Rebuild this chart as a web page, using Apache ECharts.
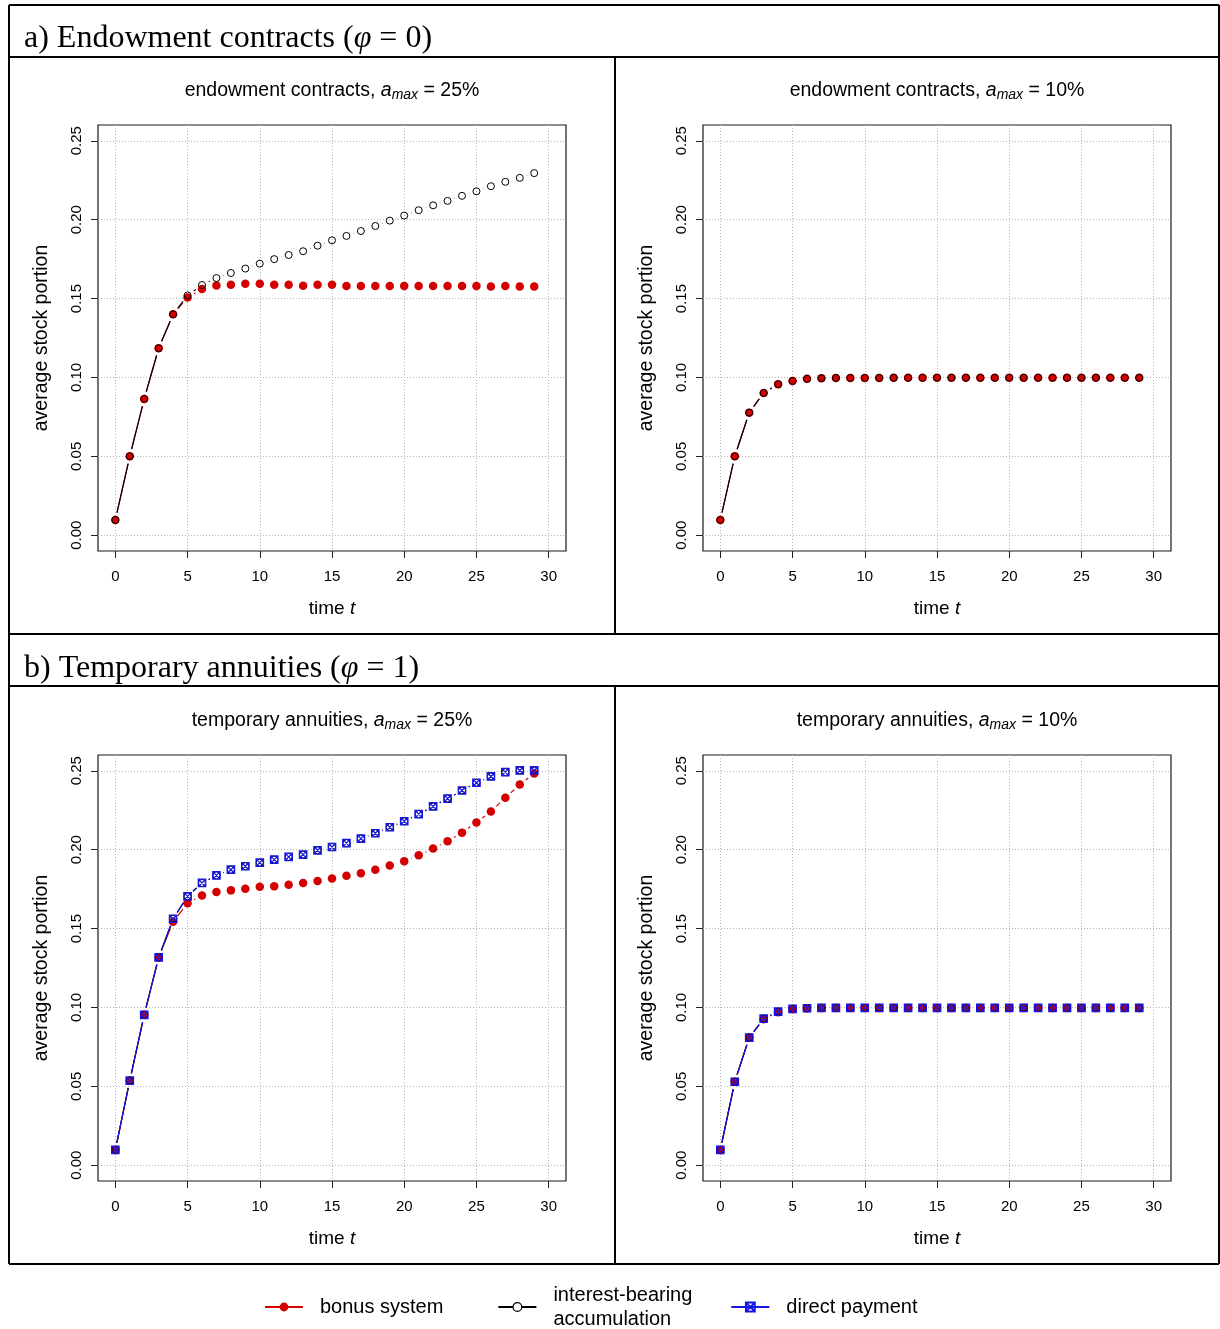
<!DOCTYPE html>
<html><head><meta charset="utf-8">
<script src="https://cdn.jsdelivr.net/npm/echarts@6/dist/echarts.min.js"></script>
<style>html,body{margin:0;padding:0;background:#fff}#c{width:1220px;height:1329px}</style>
</head><body><div id="c"></div>
<script>
// ---------------- data ----------------
const time = [0,1,2,3,4,5,6,7,8,9,10,11,12,13,14,15,16,17,18,19,20,21,22,23,24,25,26,27,28,29];
const xTicks = [0,5,10,15,20,25,30];
const yTicks = [0,0.05,0.10,0.15,0.20,0.25];

const endow25Bonus    = [0.0097,0.0500,0.0864,0.1185,0.1400,0.1507,0.1560,0.1583,0.1588,0.1594,0.1594,0.1588,0.1588,0.1581,0.1588,0.1588,0.1580,0.1580,0.1580,0.1580,0.1580,0.1580,0.1580,0.1580,0.1580,0.1580,0.1577,0.1580,0.1577,0.1577];
const endow25Interest = [0.0097,0.0500,0.0864,0.1185,0.1400,0.1520,0.1586,0.1630,0.1662,0.1690,0.1721,0.1750,0.1776,0.1800,0.1835,0.1869,0.1897,0.1928,0.1960,0.1994,0.2026,0.2060,0.2091,0.2119,0.2151,0.2180,0.2212,0.2240,0.2265,0.2295];

const endow10Bonus    = [0.0097,0.0500,0.0777,0.0902,0.0957,0.0978,0.0991,0.0995,0.0997,0.0997,0.0997,0.0997,0.0998,0.0998,0.0998,0.0998,0.0998,0.0998,0.0998,0.0998,0.0998,0.0998,0.0998,0.0998,0.0998,0.0998,0.0998,0.0998,0.0998,0.0998];
const endow10Interest = [0.0097,0.0500,0.0777,0.0902,0.0957,0.0978,0.0991,0.0995,0.0997,0.0997,0.0997,0.0997,0.0998,0.0998,0.0998,0.0998,0.0998,0.0998,0.0998,0.0998,0.0998,0.0998,0.0998,0.0998,0.0998,0.0998,0.0998,0.0998,0.0998,0.0998];

const annuity25Bonus    = [0.0097,0.0536,0.0953,0.1317,0.1543,0.1660,0.1710,0.1732,0.1742,0.1753,0.1765,0.1768,0.1778,0.1789,0.1801,0.1818,0.1835,0.1850,0.1873,0.1899,0.1926,0.1964,0.2007,0.2053,0.2108,0.2172,0.2242,0.2329,0.2413,0.2483];
const annuity25Interest = [0.0097,0.0536,0.0953,0.1317,0.1562,0.1704,0.1789,0.1837,0.1873,0.1895,0.1918,0.1937,0.1954,0.1969,0.1996,0.2017,0.2041,0.2070,0.2104,0.2142,0.2180,0.2225,0.2274,0.2324,0.2375,0.2424,0.2464,0.2491,0.2502,0.2502];
const annuity25Direct   = [0.0097,0.0536,0.0953,0.1317,0.1562,0.1704,0.1789,0.1837,0.1873,0.1895,0.1918,0.1937,0.1954,0.1969,0.1996,0.2017,0.2041,0.2070,0.2104,0.2142,0.2180,0.2225,0.2274,0.2324,0.2375,0.2424,0.2464,0.2491,0.2502,0.2502];

const annuity10Bonus    = [0.0097,0.0529,0.0809,0.0925,0.0970,0.0990,0.0995,0.0997,0.0997,0.0997,0.0997,0.0997,0.0997,0.0997,0.0997,0.0997,0.0997,0.0997,0.0997,0.0997,0.0997,0.0997,0.0997,0.0997,0.0997,0.0997,0.0997,0.0997,0.0997,0.0997];
const annuity10Interest = [0.0097,0.0529,0.0809,0.0929,0.0974,0.0991,0.0995,0.0997,0.0997,0.0997,0.0997,0.0997,0.0997,0.0997,0.0997,0.0997,0.0997,0.0997,0.0997,0.0997,0.0997,0.0997,0.0997,0.0997,0.0997,0.0997,0.0997,0.0997,0.0997,0.0997];
const annuity10Direct   = [0.0097,0.0529,0.0809,0.0929,0.0974,0.0991,0.0995,0.0997,0.0997,0.0997,0.0997,0.0997,0.0997,0.0997,0.0997,0.0997,0.0997,0.0997,0.0997,0.0997,0.0997,0.0997,0.0997,0.0997,0.0997,0.0997,0.0997,0.0997,0.0997,0.0997];

const panelNames = ['endowment contracts','endowment contracts','temporary annuities','temporary annuities'];
const panelAmax  = ['25%','10%','25%','10%'];
const seriesNames = ['bonus system','interest-bearing\naccumulation','direct payment'];
// ---------------------------------------

const SANS = 'Liberation Sans, Arial, sans-serif';
const SERIF = 'Liberation Serif, Times New Roman, serif';
const RED = '#d40000', BLACK = '#000000', BLUE = '#1414e6';
const GAP = 7.5;

const panels = [
  {left:98,  top:125, bonus:endow25Bonus,   interest:endow25Interest,   direct:null},
  {left:703, top:125, bonus:endow10Bonus,   interest:endow10Interest,   direct:null},
  {left:98,  top:755, bonus:annuity25Bonus, interest:annuity25Interest, direct:annuity25Direct},
  {left:703, top:755, bonus:annuity10Bonus, interest:annuity10Interest, direct:annuity10Direct}
];
const GW = 468, GH = 426;

const boxX = 'path://M0,0L10,0L10,10L0,10Z M0,0L10,10 M10,0L0,10';

const grids = [], xAxes = [], yAxes = [], series = [], graphics = [];

function segData(vals){
  const out = [];
  for (let i = 0; i < vals.length - 1; i++) out.push([time[i], vals[i], time[i+1], vals[i+1]]);
  return out;
}
function gapLines(gi, vals, color, z){
  return {
    type:'custom', coordinateSystem:'cartesian2d', xAxisIndex:gi, yAxisIndex:gi, z:z, silent:true,
    encode:{x:[0,2], y:[1,3]},
    data: segData(vals),
    renderItem: function(params, api){
      const p0 = api.coord([api.value(0), api.value(1)]);
      const p1 = api.coord([api.value(2), api.value(3)]);
      const dx = p1[0]-p0[0], dy = p1[1]-p0[1], d = Math.hypot(dx, dy);
      if (d <= 2*GAP) return {type:'group', children:[]};
      const ux = dx/d, uy = dy/d;
      return {type:'line', shape:{x1:p0[0]+GAP*ux, y1:p0[1]+GAP*uy, x2:p1[0]-GAP*ux, y2:p1[1]-GAP*uy},
              style:{stroke:color, lineWidth:1.2}};
    }
  };
}
function points(gi, name, vals, z, symbol, size, itemStyle){
  return {
    type:'line', name:name, xAxisIndex:gi, yAxisIndex:gi, z:z, silent:true,
    data: vals.map((v,i)=>[time[i], v]),
    symbol:symbol, symbolSize:size, showAllSymbol:true,
    itemStyle:itemStyle,
    lineStyle:{opacity:0, width:0},
    emphasis:{disabled:true}
  };
}

panels.forEach((p, gi) => {
  grids.push({left:p.left, top:p.top, width:GW, height:GH, show:true, borderColor:'#1a1a1a', borderWidth:1.2, backgroundColor:'transparent'});
  xAxes.push({
    gridIndex:gi, type:'value', min:-1.2, max:31.2,
    axisLine:{show:false, onZero:false},
    axisTick:{show:true, length:7, customValues:xTicks, lineStyle:{color:'#222'}},
    axisLabel:{customValues:xTicks, margin:18, fontSize:15, color:'#000', fontFamily:SANS},
    splitLine:{show:true, lineStyle:{color:'#b4b4b4', type:[1,2], width:1}},
    name:'time {i|t}', nameLocation:'middle', nameGap:48,
    nameTextStyle:{fontSize:19, color:'#000', fontFamily:SANS, rich:{i:{fontStyle:'italic', fontSize:19, color:'#000', fontFamily:SANS}}}
  });
  yAxes.push({
    gridIndex:gi, type:'value', min:-0.01, max:0.26,
    axisLine:{show:false, onZero:false},
    axisTick:{show:true, length:7, customValues:yTicks, lineStyle:{color:'#222'}},
    axisLabel:{customValues:yTicks, margin:14, rotate:90, fontSize:15, color:'#000', fontFamily:SANS, formatter:v=>v.toFixed(2)},
    splitLine:{show:true, lineStyle:{color:'#b4b4b4', type:[1,2], width:1}},
    name:'average stock portion', nameLocation:'middle', nameGap:46, nameRotate:90,
    nameTextStyle:{fontSize:19.5, color:'#000', fontFamily:SANS}
  });
  series.push(gapLines(gi, p.bonus, RED, 2));
  series.push(points(gi, seriesNames[0], p.bonus, 2, 'circle', 8.5, {color:RED}));
  series.push(gapLines(gi, p.interest, BLACK, 3));
  series.push(points(gi, seriesNames[1], p.interest, 3, 'circle', 7, {color:'rgba(0,0,0,0)', borderColor:BLACK, borderWidth:1}));
  if (p.direct) {
    series.push(gapLines(gi, p.direct, BLUE, 4));
    series.push(points(gi, seriesNames[2], p.direct, 4, boxX, 7.5, {color:'rgba(0,0,0,0)', borderColor:BLUE, borderWidth:1.2}));
  }
  graphics.push({
    type:'text', x:p.left + GW/2, y:p.top - 34, silent:true,
    style:{
      text: panelNames[gi] + ', {i|a}{s|max} = ' + panelAmax[gi],
      fontSize:19.5, fontFamily:SANS, fill:'#000', align:'center', verticalAlign:'middle', lineHeight:23,
      rich:{
        i:{fontStyle:'italic', fontSize:19.5, fontFamily:SANS, fill:'#000', lineHeight:23},
        s:{fontStyle:'italic', fontSize:14, fontFamily:SANS, fill:'#000', lineHeight:14, verticalAlign:'bottom'}
      }
    }
  });
});

// table frame
const hl = (y, x1, x2) => ({type:'line', silent:true, shape:{x1:x1, y1:y, x2:x2, y2:y}, style:{stroke:'#000', lineWidth:2}});
const vl = (x, y1, y2) => ({type:'line', silent:true, shape:{x1:x, y1:y1, x2:x, y2:y2}, style:{stroke:'#000', lineWidth:2}});
graphics.push(hl(5, 9, 1219), hl(57, 9, 1219), hl(634, 9, 1219), hl(686, 9, 1219), hl(1264, 9, 1219));
graphics.push(vl(9, 5, 1264), vl(1219, 5, 1264), vl(615, 57, 634), vl(615, 686, 1264));
const headers = [
  {y:39,  text:'a) Endowment contracts ({p|φ} = 0)'},
  {y:669, text:'b) Temporary annuities ({p|φ} = 1)'}
];
headers.forEach(h => graphics.push({
  type:'text', x:24, y:h.y, silent:true,
  style:{text:h.text, fontSize:32, fontFamily:SERIF, fill:'#000', align:'left', verticalAlign:'middle', lineHeight:36,
         rich:{p:{fontStyle:'italic', fontSize:32, fontFamily:SERIF, fill:'#000', lineHeight:36}}}
}));

const option = {
  animation:false,
  backgroundColor:'#fff',
  grid:grids, xAxis:xAxes, yAxis:yAxes, series:series,
  graphic:{elements:graphics},
  legend:{
    left:259, top:1278, orient:'horizontal', selectedMode:false,
    itemWidth:38, itemHeight:11, itemGap:38,
    textStyle:{fontSize:20, fontFamily:SANS, color:'#000', lineHeight:24, padding:[0,0,0,12]},
    data:[
      {name:seriesNames[0], lineStyle:{color:RED, width:2, opacity:1}, textStyle:{padding:[0,16,0,12]}},
      {name:seriesNames[1], lineStyle:{color:BLACK, width:2, opacity:1}, itemStyle:{color:'#fff', borderColor:BLACK, borderWidth:1.2}},
      {name:seriesNames[2], lineStyle:{color:BLUE, width:2, opacity:1}}
    ]
  }
};
const chart = echarts.init(document.getElementById('c'), null, {renderer:'canvas'});
chart.setOption(option);
</script>
</body></html>
